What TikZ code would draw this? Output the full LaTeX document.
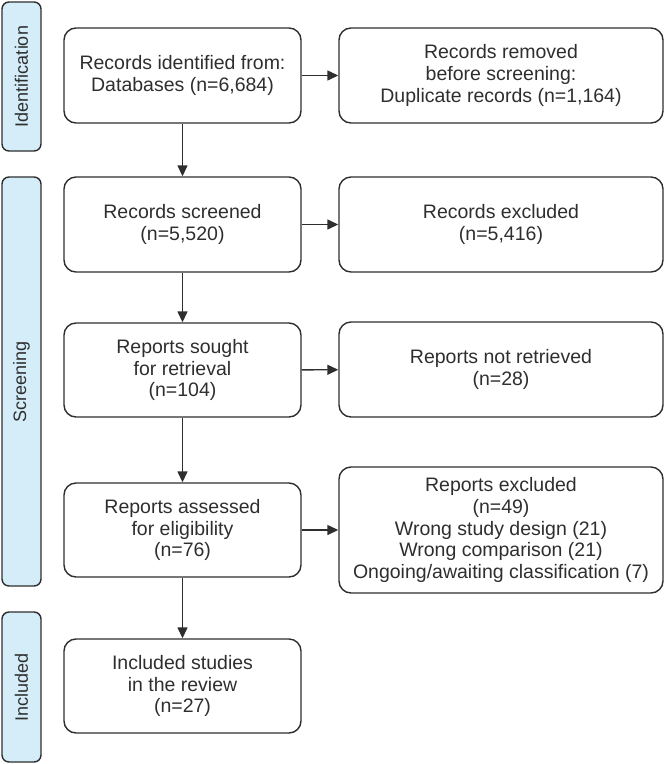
\documentclass[tikz,border=0pt]{standalone}
\usepackage{fontspec}
\setmainfont{Liberation Sans}
\usetikzlibrary{arrows.meta}
\definecolor{ink}{HTML}{2E2E2E}
\definecolor{barfill}{HTML}{D4EDF9}
\begin{document}
\begin{tikzpicture}[x=1pt,y=-1pt,
  every node/.style={text=ink},
  box/.style={draw=ink,line width=1.4pt,rounded corners=12pt,align=center,inner sep=0pt,font=\fontsize{19.5}{21.8}\selectfont},
  lbox/.style={box,minimum width=237pt},
  rbox/.style={box,minimum width=324pt},
  bar/.style={draw=ink,fill=barfill,line width=1.4pt,rounded corners=7pt,minimum width=39pt,inner sep=0pt},
  barlabel/.style={rotate=90,font=\fontsize{18}{22}\selectfont},
  arr/.style={draw=ink,line width=1.4pt,-{Triangle[length=11pt,width=10pt]}}]
\useasboundingbox (0,0) rectangle (664,764);
% side bars
\node[bar,minimum height=149pt] (sid) at (21.5,76.5) {};
\node[barlabel] at (sid.center) {Identification};
\node[bar,minimum height=409pt] (ssc) at (21.5,381.5) {};
\node[barlabel] at (ssc.center) {Screening};
\node[bar,minimum height=150pt] (sin) at (21.5,687) {};
\node[barlabel] at (sin.center) {Included};
% left column
\node[lbox,minimum height=95pt] (b1) at (182.5,75.5) {Records identified from:\\Databases (n=6,684)};
\node[lbox,minimum height=95pt] (b2) at (182.5,224.5) {Records screened\\(n=5,520)};
\node[lbox,minimum height=94pt] (b3) at (182.5,370) {Reports sought\\for retrieval\\(n=104)};
\node[lbox,minimum height=94pt] (b4) at (182.5,530) {Reports assessed\\for eligibility\\(n=76)};
\node[lbox,minimum height=94pt] (b5) at (182.5,686) {Included studies\\in the review\\(n=27)};
% right column
\node[rbox,minimum height=95pt] (r1) at (501,75.5) {Records removed\\before screening:\\Duplicate records (n=1,164)};
\node[rbox,minimum height=95pt] (r2) at (501,224.5) {Records excluded\\(n=5,416)};
\node[rbox,minimum height=95pt] (r3) at (501,369.5) {Reports not retrieved\\(n=28)};
\node[rbox,minimum height=126pt] (r4) at (501,530) {Reports excluded\\(n=49)\\Wrong study design (21)\\Wrong comparison (21)\\Ongoing/awaiting classification (7)};
% arrows
\draw[arr] (b1) -- (b2);
\draw[arr] (b2) -- (b3);
\draw[arr] (b3) -- (b4);
\draw[arr] (b4) -- (b5);
\draw[arr] (b1) -- (r1);
\draw[arr] (b2) -- (r2);
\draw[arr] (b3) -- (r3);
\draw[arr] (b4) -- (r4);
\end{tikzpicture}
\end{document}
